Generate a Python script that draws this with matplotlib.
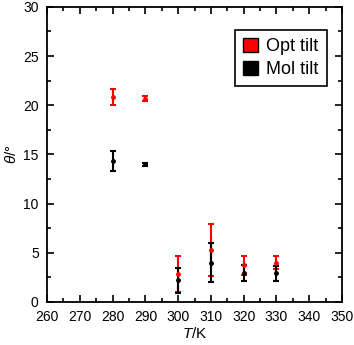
import matplotlib
matplotlib.use('Agg')
import matplotlib.pyplot as plt
from matplotlib.patches import Patch
from matplotlib.ticker import MultipleLocator

plt.rcParams['font.family'] = ['Liberation Sans', 'DejaVu Sans']
plt.rcParams['mathtext.fontset'] = 'custom'
plt.rcParams['mathtext.rm'] = 'Liberation Sans'
plt.rcParams['mathtext.it'] = 'Liberation Sans:italic'

# temperatures (K)
T = [280, 290, 300, 310, 320, 330]

# optical tilt angle and error
opt_tilt = [20.85, 20.65, 2.85, 5.3, 3.7, 4.0]
opt_err = [0.85, 0.25, 1.8, 2.65, 1.0, 0.65]

# molecular tilt angle and error
mol_tilt = [14.3, 14.0, 2.2, 4.0, 2.9, 2.9]
mol_err = [1.0, 0.15, 1.25, 2.0, 0.8, 0.78]

fig = plt.figure(figsize=(3.54, 3.45), dpi=100)
ax = fig.add_axes([0.133, 0.125, 0.833, 0.855])

ax.errorbar(T, opt_tilt, yerr=opt_err, fmt='o', color='#ff0000', ms=2.5,
            elinewidth=1.5, capsize=2.3, capthick=1.5)
ax.errorbar(T, mol_tilt, yerr=mol_err, fmt='o', color='black', ms=2.5,
            elinewidth=1.5, capsize=2.3, capthick=1.5)

ax.set_xlim(260, 350)
ax.set_ylim(0, 30)
ax.xaxis.set_major_locator(MultipleLocator(10))
ax.xaxis.set_minor_locator(MultipleLocator(5))
ax.yaxis.set_major_locator(MultipleLocator(5))
ax.yaxis.set_minor_locator(MultipleLocator(2.5))
ax.tick_params(which='both', direction='in', top=True, right=True,
               width=1.2, labelsize=10)
ax.tick_params(which='major', length=5)
ax.tick_params(which='minor', length=3)
ax.tick_params(axis='x', which='major', pad=6)
ax.tick_params(axis='y', which='major', pad=6)
for s in ax.spines.values():
    s.set_linewidth(1.3)

ax.set_xlabel('$T$/K', fontsize=11, labelpad=1)
ax.set_ylabel(r'$\theta$/°', fontsize=11, labelpad=3)

handles = [Patch(facecolor='#ff0000', edgecolor='black', label='Opt tilt'),
           Patch(facecolor='black', edgecolor='black', label='Mol tilt')]
leg = ax.legend(handles=handles, loc='upper right', bbox_to_anchor=(0.949, 0.922),
                fontsize=13, fancybox=False, edgecolor='black', framealpha=1,
                handlelength=0.85, handleheight=0.85, handletextpad=0.45,
                borderaxespad=0, borderpad=0.45, labelspacing=0.3)
leg.get_frame().set_linewidth(1.2)

fig.savefig('out.png', dpi=100)
